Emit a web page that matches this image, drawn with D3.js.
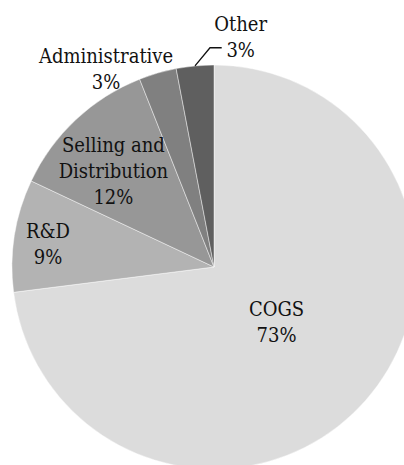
<!DOCTYPE html>
<html>
<head>
<meta charset="utf-8">
<script src="https://cdn.jsdelivr.net/npm/d3@7"></script>
<style>
  html, body { margin: 0; padding: 0; background: #ffffff; }
  svg { display: block; }
  text { font-family: "DejaVu Serif Condensed", "DejaVu Serif", serif; font-stretch: condensed; fill: #111; }
</style>
</head>
<body>
<svg id="chart" width="404" height="465"></svg>
<script>
// Cost breakdown (share of total, %)
const categories = ["COGS", "R&D", "Selling and Distribution", "Administrative", "Other"];
const shares = [73, 9, 12, 3, 3];
const labelLines = [["COGS"], ["R&D"], ["Selling and", "Distribution"], ["Administrative"], ["Other"]];
const sliceColors = ["#dcdcdc", "#b3b3b3", "#979797", "#808080", "#5f5f5f"];

// Label placement: radius as a fraction of the pie radius, angular nudge (deg)
const labelLayout = [
  { k: 0.41, turn: -0.5 },
  { k: 0.83, turn: -1.0 },
  { k: 0.69, turn: -3.0 },
  { k: 1.12, turn: -12.3 },
  { k: 1.15, turn: 12.0, leader: true }
];

const W = 404, H = 465;
const cx = 214, cy = 267, R = 202;
const fontSize = 20, lineH = 26;

const svg = d3.select("#chart");
const g = svg.append("g").attr("transform", `translate(${cx},${cy})`);

const data = categories.map((c, i) => ({ name: c, value: shares[i], i }));

const pie = d3.pie().value(d => d.value).sort(null);
const arcs = pie(data);
const arc = d3.arc().innerRadius(0).outerRadius(R);

g.selectAll("path.slice")
  .data(arcs)
  .join("path")
  .attr("class", "slice")
  .attr("d", arc)
  .attr("fill", d => sliceColors[d.data.i])
  .attr("stroke", "#ffffff")
  .attr("stroke-opacity", 0.55)
  .attr("stroke-width", 0.8)
  .attr("stroke-linejoin", "round");

const toRad = Math.PI / 180;

arcs.forEach(d => {
  const lay = labelLayout[d.data.i];
  const mid = (d.startAngle + d.endAngle) / 2 + lay.turn * toRad;
  const r = R * lay.k;
  const x = Math.sin(mid) * r;
  const y = -Math.cos(mid) * r;
  const lines = labelLines[d.data.i].concat([d3.format(".0f")(d.data.value) + "%"]);
  const n = lines.length;
  // vertical centre of the block of lines sits at y
  const capH = 15;
  const firstBase = y - ((n - 1) * lineH + capH) / 2 + capH;

  const t = g.append("text")
    .attr("text-anchor", "middle")
    .attr("font-size", fontSize);
  lines.forEach((s, j) => {
    t.append("tspan")
      .attr("x", x)
      .attr("y", firstBase + j * lineH)
      .text(s);
  });

  if (lay.leader) {
    const edgeMid = (d.startAngle + d.endAngle) / 2;
    const p0 = [Math.sin(edgeMid) * R, -Math.cos(edgeMid) * R];
    const lastBase = firstBase + (n - 1) * lineH;
    const yl = lastBase - capH * 0.6;
    const pctW = 28;
    const xEnd = x - pctW / 2 - 5;
    g.append("path")
      .attr("d", d3.line()([p0, [p0[0] + 15, yl], [xEnd, yl]]))
      .attr("fill", "none")
      .attr("stroke", "#111")
      .attr("stroke-width", 1.3);
  }
});
</script>
</body>
</html>
